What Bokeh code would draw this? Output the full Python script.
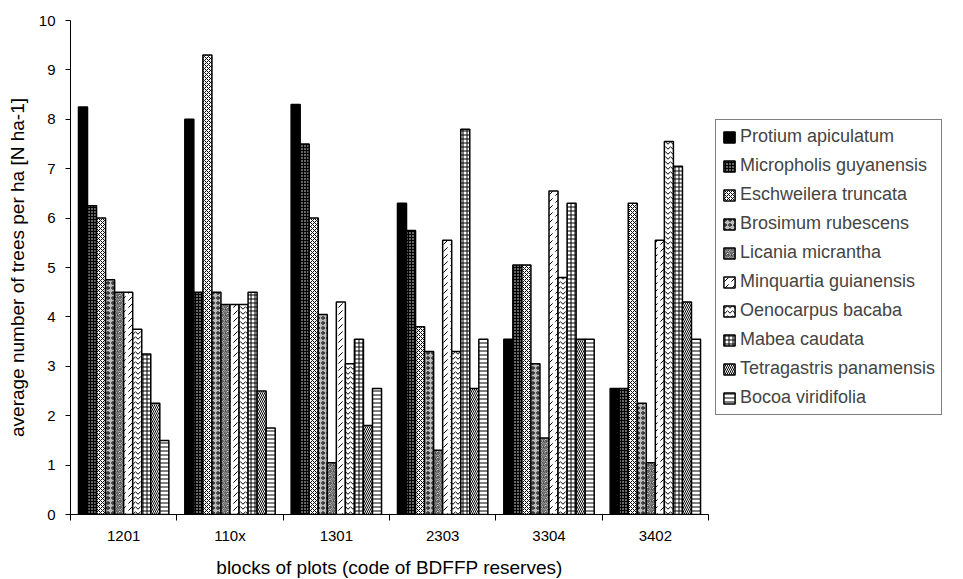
from bokeh.plotting import figure
from bokeh.models import Range1d, FixedTicker, Legend, LegendItem, ColumnDataSource
from bokeh.embed import file_html
from bokeh.resources import INLINE

blocks = ["1201", "110x", "1301", "2303", "3304", "3402"]
species = ["Protium apiculatum", "Micropholis guyanensis", "Eschweilera truncata",
           "Brosimum rubescens", "Licania micrantha", "Minquartia guianensis",
           "Oenocarpus bacaba", "Mabea caudata", "Tetragastris panamensis",
           "Bocoa viridifolia"]

protium      = [8.25, 8.0, 8.3, 6.3, 3.55, 2.55]
micropholis  = [6.25, 4.5, 7.5, 5.75, 5.05, 2.55]
eschweilera  = [6.0, 9.3, 6.0, 3.8, 5.05, 6.3]
brosimum     = [4.75, 4.5, 4.05, 3.3, 3.05, 2.25]
licania      = [4.5, 4.25, 1.05, 1.3, 1.55, 1.05]
minquartia   = [4.5, 4.25, 4.3, 5.55, 6.55, 5.55]
oenocarpus   = [3.75, 4.25, 3.05, 3.3, 4.8, 7.55]
mabea        = [3.25, 4.5, 3.55, 7.8, 6.3, 7.05]
tetragastris = [2.25, 2.5, 1.8, 2.55, 3.55, 4.3]
bocoa        = [1.5, 1.75, 2.55, 3.55, 3.55, 3.55]

series = [protium, micropholis, eschweilera, brosimum, licania,
          minquartia, oenocarpus, mabea, tetragastris, bocoa]

# style per species: (fill, hatch pattern, hatch color, hatch scale)
styles = [
    ("black", None, "black", 4),
    ("black", "dot", "white", 3),
    ("white", "diagonal_cross", "black", 4),
    ("#bbbbbb", "ring", "black", 5),
    ("white", "spiral", "black", 6),
    ("white", "right_diagonal_dash", "black", 7),
    ("white", "horizontal_wave", "black", 5),
    ("white", "cross", "black", 4),
    ("white", "left_diagonal_line", "black", 4),
    ("white", "horizontal_line", "black", 4),
]

FONT = "Liberation Sans"

p = figure(frame_width=638, frame_height=494, output_backend="svg", toolbar_location=None,
           x_range=Range1d(0, 6), y_range=Range1d(0, 10),
           min_border_left=70, min_border_right=0, min_border_top=20,
           min_border_bottom=65)
p.outline_line_color = None
p.xgrid.visible = False
p.ygrid.visible = False

bw = 0.085
items = []
for j, (name, vals) in enumerate(zip(species, series)):
    xs = [i + 0.5 + (j - 4.5) * bw for i in range(len(blocks))]
    src = ColumnDataSource(dict(x=xs, top=vals))
    fill, hatch, hcol, hs = styles[j]
    kw = dict(x="x", top="top", bottom=0, width=bw, source=src,
              fill_color=fill, line_color="black", line_width=1.5)
    if hatch:
        kw.update(hatch_pattern=hatch, hatch_color=hcol, hatch_scale=hs, hatch_weight=1)
    r = p.vbar(**kw)
    items.append(LegendItem(label=name, renderers=[r]))

legend = Legend(items=items, location="center_left")
legend.border_line_color = "black"
legend.border_line_width = 1
legend.label_text_font = FONT
legend.label_text_font_size = "18px"
legend.glyph_width = 14
legend.glyph_height = 14
legend.label_height = 20
legend.spacing = 8
legend.padding = 6
legend.margin = 7
legend.label_standoff = 4
legend.background_fill_alpha = 1
p.add_layout(legend, "right")

# y axis
p.yaxis.ticker = FixedTicker(ticks=list(range(0, 11)))
p.yaxis.axis_label = "average number of trees per ha [N ha-1]"
p.yaxis.axis_label_text_font = FONT
p.yaxis.axis_label_text_font_size = "19px"
p.yaxis.axis_label_text_font_style = "normal"
p.yaxis.axis_label_text_color = "black"
p.yaxis.axis_label_standoff = 8
p.yaxis.major_label_text_font = FONT
p.yaxis.major_label_text_font_size = "15px"
p.yaxis.major_label_text_color = "black"
p.yaxis.major_tick_out = 5
p.yaxis.major_tick_in = 0
p.yaxis.minor_tick_line_color = None
p.yaxis.major_label_standoff = 10
p.yaxis.axis_line_color = "black"
p.yaxis.major_tick_line_color = "black"

# x axis: labels centered, ticks at boundaries
centers = [i + 0.5 for i in range(len(blocks))]
p.xaxis.ticker = FixedTicker(ticks=centers, minor_ticks=list(range(0, len(blocks) + 1)))
p.xaxis.major_label_overrides = {c: b for c, b in zip(centers, blocks)}
p.xaxis.major_tick_line_color = None
p.xaxis.major_tick_out = 0
p.xaxis.minor_tick_out = 6
p.xaxis.minor_tick_in = 0
p.xaxis.minor_tick_line_color = "black"
p.xaxis.axis_line_color = "black"
p.xaxis.major_label_text_font = FONT
p.xaxis.major_label_text_font_size = "15px"
p.xaxis.major_label_text_color = "black"
p.xaxis.major_label_standoff = 6
p.xaxis.axis_label = "blocks of plots (code of BDFFP reserves)"
p.xaxis.axis_label_text_font = FONT
p.xaxis.axis_label_text_font_size = "19px"
p.xaxis.axis_label_text_font_style = "normal"
p.xaxis.axis_label_text_color = "black"
p.xaxis.axis_label_standoff = 10

open("out.html", "w").write(file_html(p, INLINE))
